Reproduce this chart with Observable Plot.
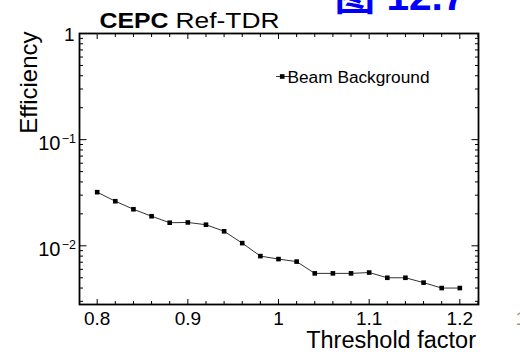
<!DOCTYPE html>
<html><head><meta charset="utf-8">
<script src="https://cdn.jsdelivr.net/npm/d3@7"></script>
<script src="https://cdn.jsdelivr.net/npm/@observablehq/plot@0.6"></script>
<style>html,body{margin:0;padding:0;background:#fff;} #chart svg{display:block;}</style>
</head><body><div id="chart"></div>
<script>
// ---- data ----
const thresholds = [0.80,0.82,0.84,0.86,0.88,0.90,0.92,0.94,0.96,0.98,1.00,1.02,1.04,1.06,1.08,1.10,1.12,1.14,1.16,1.18,1.20];
const efficiency = [0.0320,0.0263,0.0221,0.0190,0.0165,0.0166,0.0158,0.0137,0.0106,0.0080,0.0075,0.0071,0.0055,0.0055,0.0055,0.0056,0.0050,0.0050,0.0045,0.0040,0.0040];
const seriesName = "Beam Background";
const xMajorTicks = [0.8,0.9,1.0,1.1,1.2];
const xMinorTicks = [0.82,0.84,0.86,0.88,0.92,0.94,0.96,0.98,1.02,1.04,1.06,1.08,1.12,1.14,1.16,1.18,1.22];
const yMajorTicks = [1,0.1,0.01];
const yMinorTicks = [0.003,0.004,0.005,0.006,0.007,0.008,0.009,0.02,0.03,0.04,0.05,0.06,0.07,0.08,0.09,0.2,0.3,0.4,0.5,0.6,0.7,0.8,0.9];
const yPowerTicks = [0.1,0.01];
const xTitle = "Threshold factor";
const yTitle = "Efficiency";
const titleBold = "CEPC";
const titleRest = "Ref-TDR";
const figNumber = "图 12.7";

const table = thresholds.map((t, i) => ({t, e: efficiency[i]}));
const font = "'Liberation Sans', Arial, Helvetica, sans-serif";
const noLabel = () => "";
const lineShape = {draw(c, l) { c.moveTo(0, 0); c.lineTo(0, -l); }};

const chart = Plot.plot({
  width: 520, height: 352,
  marginLeft: 79, marginRight: 42, marginTop: 33, marginBottom: 48,
  style: {fontFamily: font, background: "white", color: "black"},
  x: {domain: [0.7805, 1.2206], label: null},
  y: {type: "log", domain: [0.0028, 1], label: null},
  marks: [
    // ticks, all inward
    Plot.axisX(xMajorTicks, {anchor: "bottom", tickSize: -5, tickPadding: 11.5, fontSize: 19, label: null, tickFormat: d => String(+d.toFixed(1))}),
    Plot.axisX(xMinorTicks, {anchor: "bottom", tickSize: -3, label: null, tickFormat: noLabel}),
    Plot.axisX(xMajorTicks, {anchor: "top", tickSize: -5, label: null, tickFormat: noLabel}),
    Plot.axisX(xMinorTicks, {anchor: "top", tickSize: -3, label: null, tickFormat: noLabel}),
    Plot.axisY(yMajorTicks, {anchor: "left", tickSize: -7.5, label: null, tickFormat: noLabel}),
    Plot.axisY(yMinorTicks, {anchor: "left", tickSize: -4, label: null, tickFormat: noLabel}),
    Plot.axisY(yMajorTicks, {anchor: "right", tickSize: -7.5, label: null, tickFormat: noLabel}),
    Plot.axisY(yMinorTicks, {anchor: "right", tickSize: -4, label: null, tickFormat: noLabel}),
    // y tick labels
    Plot.axisY([1], {anchor: "left", tickSize: 0, tickPadding: 5, fontSize: 19, dy: 1, label: null, tickFormat: () => "1"}),
    Plot.axisY(yPowerTicks, {anchor: "left", tickSize: 0, tickPadding: 19, fontSize: 20, dy: 4, label: null, tickFormat: () => "10"}),
    Plot.axisY(yPowerTicks, {anchor: "left", tickSize: 0, tickPadding: 3.5, fontSize: 12.5, dy: -1, label: null, tickFormat: d => "\u2212" + Math.round(-Math.log10(d))}),
    Plot.frame({stroke: "black", strokeWidth: 1.8}),
    // data
    Plot.line(table, {x: "t", y: "e", stroke: "#333", strokeWidth: 1}),
    Plot.dot(table, {x: "t", y: "e", symbol: "square", r: 2.6, fill: "black"}),
    // legend
    Plot.vector([seriesName], {frameAnchor: "top-left", dx: 197, dy: 43, anchor: "start", rotate: 90, length: 12.5, shape: lineShape, stroke: "#333", strokeWidth: 1}),
    Plot.dot([seriesName], {frameAnchor: "top-left", dx: 202.7, dy: 43, symbol: "square", r: 2.6, fill: "black"}),
    Plot.text([seriesName], {frameAnchor: "top-left", dx: 208, dy: 49.5, textAnchor: "start", lineAnchor: "bottom", fontSize: 16, text: d => d}),
    // titles
    Plot.text([titleBold], {frameAnchor: "top-left", dx: 20, dy: -6, textAnchor: "start", lineAnchor: "bottom", fontSize: 22.5, fontWeight: "bold", text: d => d}),
    Plot.text([titleRest], {frameAnchor: "top-left", dx: 96, dy: -6, textAnchor: "start", lineAnchor: "bottom", fontSize: 22.5, text: d => d}),
    Plot.text([xTitle], {frameAnchor: "bottom-right", dx: -2.5, dy: 43.5, textAnchor: "end", lineAnchor: "bottom", fontSize: 23.5, text: d => d}),
    Plot.text([yTitle], {frameAnchor: "top-left", dx: -42.5, dy: -2, rotate: -90, textAnchor: "end", lineAnchor: "bottom", fontSize: 24, text: d => d}),
    Plot.text([figNumber], {frameAnchor: "top-left", dx: 255, dy: -24, textAnchor: "start", lineAnchor: "bottom", fontSize: 38, fontWeight: "bold", fill: "#0000ff", fontFamily: "'Liberation Sans','Noto Sans CJK SC',sans-serif", text: d => d}),
    Plot.text(["1"], {frameAnchor: "bottom-right", dx: 37, dy: 20, textAnchor: "start", lineAnchor: "bottom", fontSize: 19, fill: "#999", text: d => d})
  ]
});
document.getElementById("chart").appendChild(chart);

// match text widths of the reference
const widths = {"CEPC": 69, "Ref-TDR": 104, "Beam Background": 142, "图 12.7": 131};
d3.select(chart).selectAll("text").each(function () {
  const w = widths[this.textContent];
  if (w) d3.select(this).attr("textLength", w).attr("lengthAdjust", "spacingAndGlyphs");
});
</script>
</body></html>
